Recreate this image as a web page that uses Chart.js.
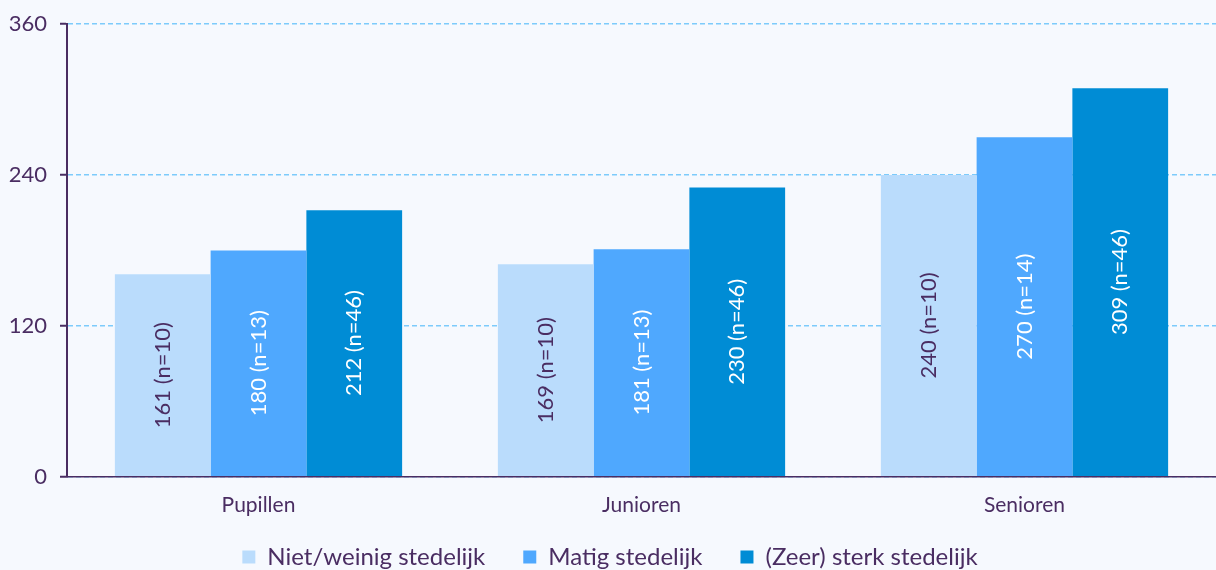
<!DOCTYPE html>
<html>
<head>
<meta charset="UTF-8">
<title>Stedelijkheid</title>
<script src="https://cdn.jsdelivr.net/npm/chart.js@4/dist/chart.umd.min.js"></script>
<style>
  html, body { margin: 0; padding: 0; background: #f6f9fe; }
  #wrap { position: relative; width: 1216px; height: 570px; }
</style>
</head>
<body>
<div id="wrap"><canvas id="chart"></canvas></div>
<script>
// data
var categories = ['Pupillen', 'Junioren', 'Senioren'];
var seriesNames = ['Niet/weinig stedelijk', 'Matig stedelijk', '(Zeer) sterk stedelijk'];
var nietWeinig = [161, 169, 240];
var matig = [180, 181, 270];
var zeerSterk = [212, 230, 309];
var nNietWeinig = [10, 10, 10];
var nMatig = [13, 13, 14];
var nZeerSterk = [46, 46, 46];
var yTicks = [0, 120, 240, 360];

var textColor = '#4a2d62';
var colors = ['#badcfc', '#4fa8fe', '#008cd5'];
var labelColors = [textColor, '#ffffff', '#ffffff'];
var counts = [nNietWeinig, nMatig, nZeerSterk];

// tekst in de staven, gedraaid
var barLabels = {
  id: 'barLabels',
  afterDatasetsDraw: function (chart) {
    var ctx = chart.ctx;
    chart.data.datasets.forEach(function (ds, di) {
      var meta = chart.getDatasetMeta(di);
      meta.data.forEach(function (bar, i) {
        var txt = ds.data[i] + ' (n=' + counts[di][i] + ')';
        ctx.save();
        ctx.translate(bar.x, (bar.y + bar.base) / 2);
        ctx.rotate(-Math.PI / 2);
        ctx.font = '22px Lato';
        ctx.fillStyle = labelColors[di];
        ctx.textAlign = 'center';
        ctx.textBaseline = 'middle';
        ctx.fillText(txt, 0, 0);
        ctx.restore();
      });
    });
  }
};

// legenda: weinig hoogte, maar wel ruimte tussen de items
var legendFit = {
  id: 'legendFit',
  beforeInit: function (chart) {
    var fit = chart.legend.fit;
    chart.legend.fit = function () {
      fit.bind(chart.legend)();
      this.height = 36;
    };
  },
  afterLayout: function (chart) {
    chart.legend.top -= 27; // bottom blijft 570, anders knipt de legenda weg
  }
};

new Chart(document.getElementById('chart'), {
  type: 'bar',
  data: {
    labels: categories,
    datasets: [
      { label: seriesNames[0], data: nietWeinig, backgroundColor: colors[0] },
      { label: seriesNames[1], data: matig, backgroundColor: colors[1] },
      { label: seriesNames[2], data: zeerSterk, backgroundColor: colors[2] }
    ]
  },
  options: {
    responsive: true,
    maintainAspectRatio: false,
    animation: false,
    datasets: { bar: { categoryPercentage: 0.75, barPercentage: 1.0 } },
    layout: { padding: { left: 0, right: -4, top: 0, bottom: 0 } },
    plugins: {
      tooltip: { enabled: false },
      legend: {
        position: 'bottom',
        labels: {
          color: textColor,
          font: { family: 'Lato', size: 24 },
          boxWidth: 13,
          boxHeight: 13,
          padding: 38
        }
      }
    },
    scales: {
      x: {
        grid: { display: false, drawTicks: false },
        border: { display: true, color: textColor, width: 1.5 },
        ticks: { color: textColor, font: { family: 'Lato', size: 21 }, padding: 16 }
      },
      y: {
        min: 0,
        max: 360,
        afterBuildTicks: function (scale) {
          scale.ticks = yTicks.map(function (v) { return { value: v }; });
        },
        afterFit: function (scale) { scale.width = 67; },
        grid: { color: '#7dcbfb', lineWidth: 1.5, tickColor: textColor, tickLength: 7, tickWidth: 2 },
        border: { display: true, color: textColor, width: 2, dash: [5, 3] },
        ticks: { color: textColor, font: { family: 'Lato', size: 22, lineHeight: 1 }, padding: 13 }
      }
    }
  },
  plugins: [barLabels, legendFit]
});
</script>
</body>
</html>
